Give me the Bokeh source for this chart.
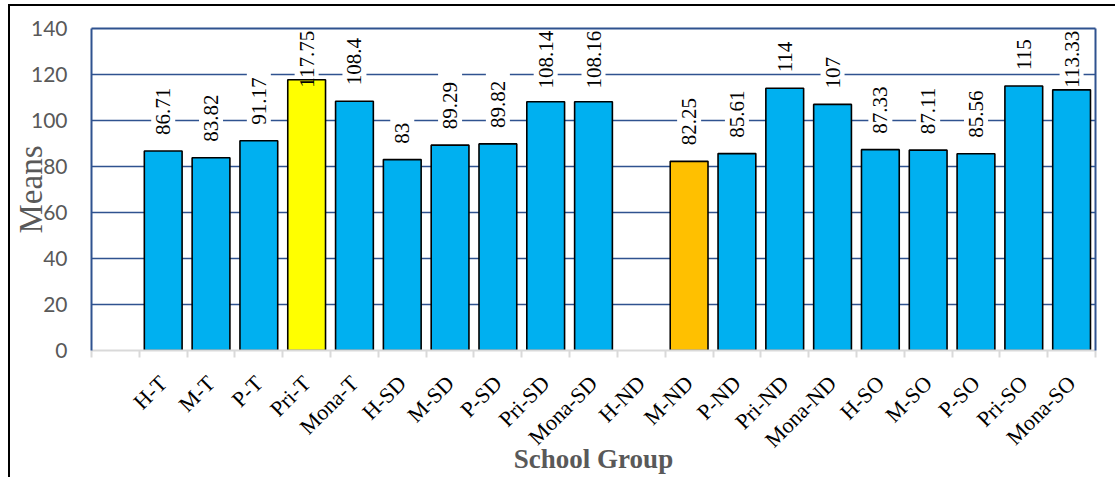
import math
from bokeh.plotting import figure
from bokeh.models import Range1d, FixedTicker, LinearAxis, ColumnDataSource, InlineStyleSheet
from bokeh.core.properties import value
from bokeh.embed import file_html
from bokeh.resources import INLINE

# ---------------- data ----------------
categories = ["", "H-T", "M-T", "P-T", "Pri-T", "Mona-T", "H-SD", "M-SD", "P-SD", "Pri-SD", "Mona-SD",
              "H-ND", "M-ND", "P-ND", "Pri-ND", "Mona-ND", "H-SO", "M-SO", "P-SO", "Pri-SO", "Mona-SO"]
means = [None, 86.71, 83.82, 91.17, 117.75, 108.4, 83, 89.29, 89.82, 108.14, 108.16,
         None, 82.25, 85.61, 114, 107, 87.33, 87.11, 85.56, 115, 113.33]
y_ticks = [0, 20, 40, 60, 80, 100, 120, 140]
highlight = {"Pri-T": "#FFFF00", "M-ND": "#FFC000"}
base_color = "#00B0F0"

# ---------------- styling constants ----------------
W, H = 1115, 477
TOP, BOTTOM, LEFT, RIGHT = 28, 126, 91, 20
Y_MAX = 140
BLUE = "#2F528F"
GRAY_TXT = "#595959"
LABEL_FONT_PX = 21
LABEL_GAP_PX = 16
LABEL_TOP_LIMIT = 139

frame_h = H - TOP - BOTTOM
ppu = frame_h / Y_MAX  # pixels per data unit


def text_len_px(s):
    return sum(0.25 if ch == "." else 0.5 for ch in s) * LABEL_FONT_PX


bx, btop, bcol = [], [], []
lx, ly, ltxt, lalign = [], [], [], []
for i, (c, v) in enumerate(zip(categories, means)):
    if v is None:
        continue
    bx.append(i)
    btop.append(v)
    bcol.append(highlight.get(c, base_color))
    t = f"{v:g}"
    start = v + LABEL_GAP_PX / ppu
    end = start + text_len_px(t) / ppu
    if end <= LABEL_TOP_LIMIT:
        lx.append(i); ly.append(start); ltxt.append(t); lalign.append("left")
    else:
        lx.append(i); ly.append(LABEL_TOP_LIMIT); ltxt.append(t); lalign.append("right")

bars = ColumnDataSource(dict(x=bx, top=btop, color=bcol))
labels = ColumnDataSource(dict(x=lx, y=ly, text=ltxt, align=lalign))

# outer black frame (top and left edges) drawn behind the transparent canvas border
frame_sheet = InlineStyleSheet(css="""
:host {
  background-color: white;
  background-image: linear-gradient(#000, #000), linear-gradient(#000, #000);
  background-size: 100% 2px, 2px 100%;
  background-position: 8px 4px, 8px 4px;
  background-repeat: no-repeat;
}
""")

p = figure(width=W, height=H, output_backend="svg", toolbar_location=None,
           x_range=Range1d(-0.5, len(categories) - 0.5), y_range=Range1d(0, Y_MAX),
           min_border_top=TOP, min_border_bottom=BOTTOM, min_border_left=LEFT, min_border_right=RIGHT,
           background_fill_color="white", border_fill_color=None,
           stylesheets=[frame_sheet])
p.outline_line_color = None
p.xgrid.visible = False
p.ygrid.ticker = FixedTicker(ticks=y_ticks[1:])
p.ygrid.grid_line_color = BLUE
p.ygrid.grid_line_width = 1.5

# label background boxes (break gridlines), then bars, then label text
p.text(x="x", y="y", text="text", source=labels, angle=math.pi / 2,
       text_align="align", text_baseline="middle",
       text_font=value("Liberation Serif"), text_font_size=f"{LABEL_FONT_PX}px",
       text_color="black", text_alpha=0,
       background_fill_color="white", padding=5)
p.vbar(x="x", top="top", bottom=0, width=0.79, source=bars,
       fill_color="color", line_color="black", line_width=1.6)
p.text(x="x", y="y", text="text", source=labels, angle=math.pi / 2,
       text_align="align", text_baseline="middle",
       text_font=value("Liberation Serif"), text_font_size=f"{LABEL_FONT_PX}px",
       text_color="black")

# x axis
xa = p.xaxis[0]
xa.ticker = FixedTicker(ticks=list(range(len(categories))),
                        minor_ticks=[i - 0.5 for i in range(len(categories) + 1)])
xa.major_label_overrides = {i: c for i, c in enumerate(categories)}
xa.major_tick_line_color = None
xa.major_tick_out = 0
xa.major_tick_in = 0
xa.minor_tick_line_color = "#D9D9D9"
xa.minor_tick_line_width = 2
xa.minor_tick_out = 7
xa.minor_tick_in = 0
xa.axis_line_color = "#D9D9D9"
xa.axis_line_width = 2
xa.major_label_orientation = math.pi / 4
xa.major_label_standoff = 22
xa.major_label_text_font = "Liberation Serif"
xa.major_label_text_font_size = "22px"
xa.major_label_text_color = "black"
xa.axis_label = "School Group"
xa.axis_label_text_font = "Liberation Serif"
xa.axis_label_text_font_style = "bold"
xa.axis_label_text_font_size = "27px"
xa.axis_label_text_color = GRAY_TXT
xa.axis_label_standoff = -20

# y axis
ya = p.yaxis[0]
ya.ticker = FixedTicker(ticks=y_ticks)
ya.axis_line_color = BLUE
ya.axis_line_width = 2
ya.major_tick_line_color = None
ya.minor_tick_line_color = None
ya.major_tick_out = 0
ya.major_tick_in = 0
ya.major_label_standoff = 24
ya.major_label_text_font = "Lato"
ya.major_label_text_font_size = "21px"
ya.major_label_text_color = GRAY_TXT
ya.axis_label = "Means"
ya.axis_label_text_font = "Liberation Serif"
ya.axis_label_text_font_style = "normal"
ya.axis_label_text_font_size = "33px"
ya.axis_label_text_color = GRAY_TXT
ya.axis_label_standoff = -21

# frame lines on top and right
for side in ("right", "above"):
    ax = LinearAxis(ticker=FixedTicker(ticks=[]), axis_line_color=BLUE, axis_line_width=2,
                    major_tick_line_color=None, minor_tick_line_color=None,
                    major_label_text_font_size="0px", major_tick_out=0, minor_tick_out=0,
                    major_label_standoff=0)
    p.add_layout(ax, side)

open("out.html", "w").write(file_html(p, INLINE))
